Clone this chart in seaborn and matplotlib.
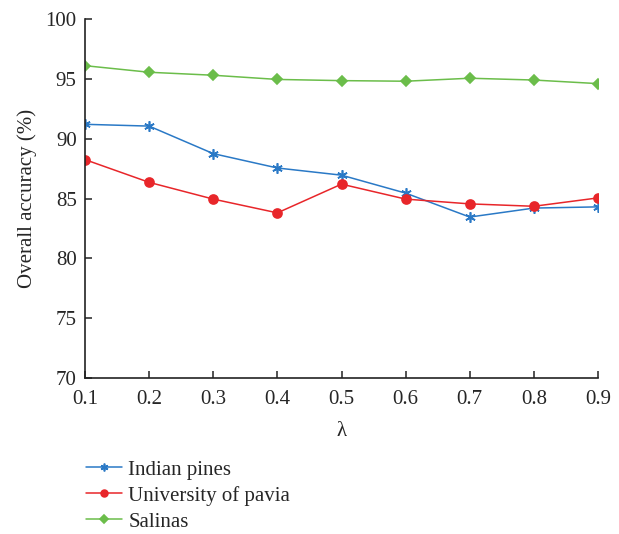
import seaborn as sns
import matplotlib.pyplot as plt
import pandas as pd

# data
lam = [0.1, 0.2, 0.3, 0.4, 0.5, 0.6, 0.7, 0.8, 0.9]
indian_pines = [91.2, 91.05, 88.75, 87.55, 86.95, 85.45, 83.45, 84.2, 84.3]
pavia = [88.25, 86.35, 84.95, 83.8, 86.2, 84.95, 84.55, 84.35, 85.05]
salinas = [96.1, 95.55, 95.3, 94.95, 94.85, 94.8, 95.05, 94.9, 94.6]

names = ["Indian pines", "University of pavia", "Salinas"]
colors = ["#2a79c6", "#e8262a", "#6bbd4a"]
markers = [(6, 2, 0), "o", "D"]
msizes = [7.5, 6.5, 5.5]

sns.set_style("ticks")
plt.rcParams["font.family"] = ["Liberation Serif", "DejaVu Serif"]
plt.rcParams["xtick.direction"] = "in"
plt.rcParams["ytick.direction"] = "in"

df = pd.DataFrame({
    "lambda": lam * 3,
    "acc": indian_pines + pavia + salinas,
    "set": [n for n in names for _ in lam],
})

fig = plt.figure(figsize=(6.19, 5.34), dpi=100)
ax = fig.add_axes([85 / 619, 1 - 378 / 534, (598 - 85) / 619, (378 - 19) / 534])

for name, c, m, ms in zip(names, colors, markers, msizes):
    sub = df[df["set"] == name]
    sns.lineplot(
        x="lambda", y="acc", data=sub, ax=ax, color=c, marker=m,
        markersize=ms, markeredgecolor=c, markeredgewidth=1.2,
        linewidth=1.1, label=name,
    )

ax.set_xlim(0.1, 0.9)
ax.set_ylim(70, 100)
ax.set_xticks(lam)
ax.set_xticklabels([f"{v:.1f}" for v in lam])
ax.set_yticks(range(70, 101, 5))
ax.tick_params(labelsize=15, length=5, width=1.1, color="#222222")
ax.tick_params(axis="x", pad=9)
ax.tick_params(axis="y", pad=6)
ax.set_xlabel("λ", fontsize=15, labelpad=9)
ax.set_ylabel("Overall accuracy (%)", fontsize=15, labelpad=6)
for s in ["left", "bottom"]:
    ax.spines[s].set_color("#222222")
    ax.spines[s].set_linewidth(1.2)
sns.despine(ax=ax)

ax.legend(loc="upper left", bbox_to_anchor=(-0.015, -0.205), frameon=False,
          fontsize=15, handlelength=1.75, labelspacing=0.3, handletextpad=0.3,
          markerscale=0.75, borderaxespad=0)

fig.savefig("out.png", dpi=100)
